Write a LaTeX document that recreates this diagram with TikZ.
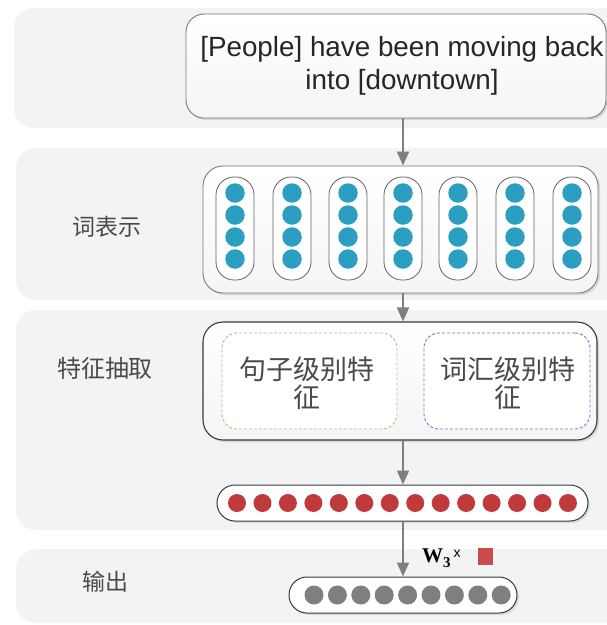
\documentclass[tikz,border=0pt]{standalone}
\usepackage{fontspec}
\setmainfont{Liberation Sans}
\newfontfamily\cjk{Noto Sans CJK SC}
\newfontfamily\serifw{Liberation Serif}
\usetikzlibrary{arrows.meta,shadows}
\definecolor{bandc}{HTML}{F2F4F4}
\definecolor{boxline}{HTML}{7A7A7A}
\definecolor{darkline}{HTML}{3A3A3A}
\definecolor{bluec}{HTML}{2A9FC2}
\definecolor{redc}{HTML}{C0393B}
\definecolor{grayc}{HTML}{7F7F7F}
\definecolor{arrowc}{HTML}{7F7F7F}
\definecolor{greenc}{HTML}{9CCB7C}
\definecolor{purplec}{HTML}{8C6CCB}
\definecolor{labelc}{HTML}{4A4A4A}
\definecolor{sqc}{HTML}{C94B4B}
\begin{document}
\begin{tikzpicture}[x=1pt,y=-1pt,
  band/.style={fill=bandc,rounded corners=20pt},
  bigbox/.style={draw=boxline,line width=0.9pt,rounded corners=18pt,top color=white,bottom color=gray!8,
     drop shadow={opacity=0.25,shadow xshift=2pt,shadow yshift=-2pt}},
  pillbox/.style={draw=boxline!80!black,line width=0.8pt,fill=white,rounded corners=18pt},
  dot/.style={circle,inner sep=0pt,minimum size=#1},
  flow/.style={draw=arrowc,line width=2pt,-{Triangle[length=14pt,width=12pt]}},
  sidelabel/.style={text=labelc,font=\cjk\fontsize{23}{23}\selectfont},
  featlabel/.style={text=labelc,align=center,font=\cjk\fontsize{27}{28}\selectfont}
]
\useasboundingbox (0,0) rectangle (607,625);
\clip (0,0) rectangle (607,625);
\fill[white] (0,0) rectangle (607,625);
% bands
\fill[band] (14,8) rectangle (650,128);
\fill[band] (16,148) rectangle (650,300);
\fill[band] (16,310) rectangle (650,530);
\fill[band] (16,549) rectangle (650,623);
% column of arrows
\coordinate (ax) at (403,0);
% sentence box
\node[bigbox,minimum width=420pt,minimum height=104pt,inner sep=0pt,align=center,
  font=\fontsize{27.8}{33}\selectfont,text=black!85] (tb) at (396,66)
  {\hspace*{12pt}[People] have been moving back\\\hspace*{12pt}into [downtown]};
% word representation box
\node[bigbox,draw=boxline,rounded corners=20pt,minimum width=395pt,minimum height=127pt,inner sep=0pt] (wb) at (400.5,229.5) {};
\foreach \i/\x in {1/235,2/292,3/348,4/403,5/458,6/515,7/572}{
  \node[pillbox,minimum width=38pt,minimum height=103pt,inner sep=0pt] (p\i) at (\x,228.5) {};
  \foreach \j/\y in {1/193,2/215,3/237,4/259}{
    \node[dot=19.5pt,fill=bluec] (b\i\j) at (\x,\y) {};
  }
}
% feature box
\node[bigbox,draw=darkline,line width=1.1pt,rounded corners=20pt,minimum width=394pt,minimum height=118pt,inner sep=0pt] (fb) at (400,381) {};
\node[draw=greenc,densely dashed,line width=0.9pt,rounded corners=15pt,fill=white,
  minimum width=175pt,minimum height=96pt,inner sep=0pt] (gb) at (309.5,381) {};
\node[draw=purplec,densely dashed,line width=0.9pt,rounded corners=15pt,fill=white,
  minimum width=166pt,minimum height=96pt,inner sep=0pt] (vb) at (507,381) {};
\node[featlabel] (gt) at (307,383) {句子级别特\\征};
\node[featlabel] (vt) at (508,383) {词汇级别特\\征};
% red pill
\node[draw=darkline,line width=1pt,fill=white,rounded corners=18pt,minimum width=371pt,minimum height=36pt,inner sep=0pt,
  drop shadow={opacity=0.2,shadow xshift=2pt,shadow yshift=-2pt}] (rp) at (402.5,503) {};
\foreach \k in {0,...,13}{
  \node[dot=18pt,fill=redc] (r\k) at ({237+\k*25.46},503) {};
}
% gray pill
\node[draw=darkline,line width=1pt,fill=white,rounded corners=18pt,minimum width=228pt,minimum height=36pt,inner sep=0pt,
  drop shadow={opacity=0.2,shadow xshift=2pt,shadow yshift=-2pt}] (gp) at (403,595) {};
\foreach \k in {0,...,8}{
  \node[dot=19pt,fill=grayc] (g\k) at ({314+\k*23.4},595) {};
}
% W3 x label and square
\node[inner sep=0pt,anchor=west] (wl) at (422,558)
  {\serifw\bfseries\fontsize{21}{21}\selectfont W\raisebox{-5pt}{\fontsize{15}{15}\selectfont 3}\hspace{3pt}\raisebox{5pt}{\normalfont\fontsize{14}{14}\selectfont x}};
\node[fill=sqc,minimum width=15pt,minimum height=17pt,inner sep=0pt] (sq) at (485.5,556.5) {};
% arrows
\draw[flow] (tb.south -| ax) -- (wb.north -| ax);
\draw[flow] (wb.south -| ax) -- (fb.north -| ax);
\draw[flow] (fb.south -| ax) -- (rp.north -| ax);
\draw[flow] (rp.south -| ax) -- (gp.north -| ax);
% side labels
\node[sidelabel] (l1) at (107,227) {词表示};
\node[sidelabel,font=\cjk\fontsize{24}{24}\selectfont] (l2) at (105,368) {特征抽取};
\node[sidelabel] (l3) at (105,582) {输出};
\end{tikzpicture}
\end{document}
